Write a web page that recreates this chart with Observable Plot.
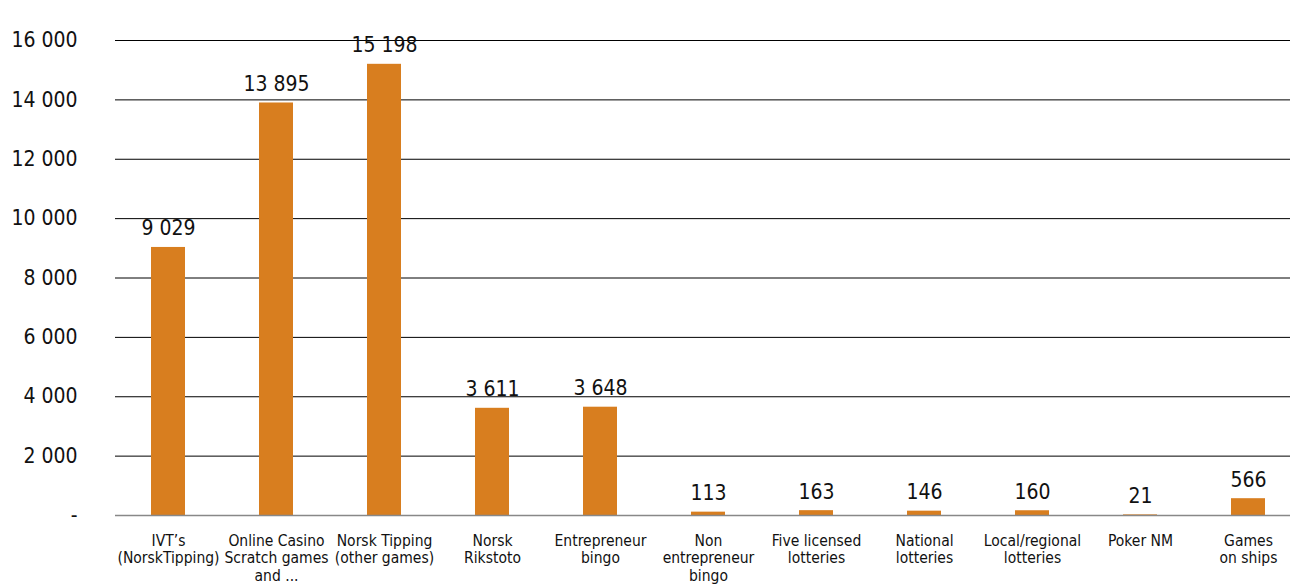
<!DOCTYPE html>
<html><head><meta charset="utf-8">
<script src="https://cdn.jsdelivr.net/npm/d3@7"></script>
<script src="https://cdn.jsdelivr.net/npm/@observablehq/plot@0.6"></script>
<style>
html,body{margin:0;padding:0;background:#fff;}
#chart{width:1290px;height:588px;overflow:hidden;}
</style></head>
<body><div id="chart"></div>
<script>
const categories = [
  "IVT’s\n(NorskTipping)",
  "Online Casino\nScratch games\nand ...",
  "Norsk Tipping\n(other games)",
  "Norsk\nRikstoto",
  "Entrepreneur\nbingo",
  "Non\nentrepreneur\nbingo",
  "Five licensed\nlotteries",
  "National\nlotteries",
  "Local/regional\nlotteries",
  "Poker NM",
  "Games\non ships"
];
const values = [9029, 13895, 15198, 3611, 3648, 113, 163, 146, 160, 21, 566];
const yTicks = [0, 2000, 4000, 6000, 8000, 10000, 12000, 14000, 16000];

const data = categories.map((c, i) => ({cat: c, value: values[i]}));
const fmt = v => v === 0 ? "-" : d3.format(",")(v).replace(/,/g, " ");
const font = "'Liberation Sans Narrow', 'DejaVu Sans Condensed', Roboto, sans-serif";

const chart = Plot.plot({
  width: 1290,
  height: 588,
  marginLeft: 114,
  marginRight: -13,
  marginTop: 40,
  marginBottom: 73,
  style: {fontFamily: font, background: "#fff", overflow: "hidden"},
  x: {domain: categories, paddingInner: 0.685, paddingOuter: 0.3425, label: null},
  y: {domain: [0, 16000], label: null},
  marks: [
    Plot.ruleY(yTicks.filter(d => d > 0), {stroke: "#000", strokeWidth: 1, insetLeft: 1, insetRight: 13}),
    Plot.barY(data, {x: "cat", y: "value", fill: "#D87E1F"}),
    Plot.ruleY([0], {stroke: "#888", strokeWidth: 1.5, insetLeft: 1}),
    Plot.text(data, {x: "cat", y: "value", text: d => fmt(d.value), lineAnchor: "bottom", dy: -12, fontSize: 21, fill: "#111"}),
    Plot.axisX({tickSize: 0, tickPadding: 18, fontSize: 15.5, lineHeight: 1.12, fill: "#111", label: null}),
    Plot.axisY({ticks: yTicks, tickSize: 0, tickPadding: 37, tickFormat: fmt, fontSize: 21, fill: "#111", label: null})
  ]
});
document.getElementById("chart").appendChild(chart);
</script>
</body></html>
